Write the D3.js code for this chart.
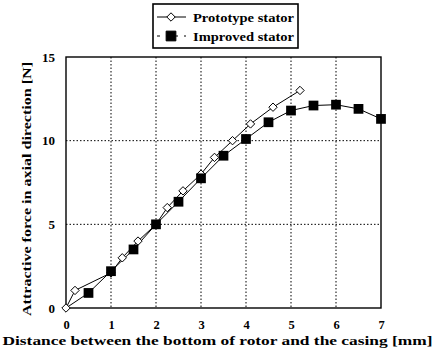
<!DOCTYPE html>
<html>
<head>
<meta charset="utf-8">
<script src="https://cdn.jsdelivr.net/npm/d3@7"></script>
<style>
  html, body { margin: 0; padding: 0; background: #fff; }
  svg { display: block; }
  text { font-family: "Liberation Serif", "Times New Roman", serif; font-weight: bold; fill: #000; }
</style>
</head>
<body>
<svg id="chart" width="438" height="358"></svg>
<script>
// Attractive force vs. rotor-to-casing distance
const prototypeX = [0, 0.2, 1.0, 1.25, 1.6, 2.0, 2.25, 2.6, 3.0, 3.3, 3.7, 4.1, 4.6, 5.2];
const prototypeY = [0, 1.05, 2.1, 3.0, 4.0, 5.0, 6.0, 7.0, 8.0, 9.0, 10.0, 11.0, 12.0, 13.0];
const improvedX = [0, 0.5, 1.0, 1.5, 2.0, 2.5, 3.0, 3.5, 4.0, 4.5, 5.0, 5.5, 6.0, 6.5, 7.0];
const improvedY = [0, 0.9, 2.2, 3.5, 5.0, 6.35, 7.75, 9.1, 10.1, 11.1, 11.8, 12.1, 12.15, 11.9, 11.3];
const xTicks = [0, 1, 2, 3, 4, 5, 6, 7];
const yTicks = [0, 5, 10, 15];
const seriesNames = ["Prototype stator", "Improved stator"];
const xTitle = "Distance between the bottom of rotor and the casing [mm]";
const yTitle = "Attractive force in axial direction [N]";

const svg = d3.select("#chart");
const plot = { left: 66, right: 381, top: 57, bottom: 308 };

const x = d3.scaleLinear().domain([0, 7]).range([plot.left, plot.right]);
const y = d3.scaleLinear().domain([0, 15]).range([plot.bottom, plot.top]);

// dotted grid
const grid = svg.append("g");
grid.selectAll("line.vx").data(xTicks.slice(1, -1)).join("line")
  .attr("x1", d => x(d)).attr("x2", d => x(d))
  .attr("y1", plot.top).attr("y2", plot.bottom)
  .attr("stroke", "#000").attr("stroke-width", 1).attr("stroke-dasharray", "1.5,2");
grid.selectAll("line.hy").data(yTicks.slice(1, -1)).join("line")
  .attr("x1", plot.left).attr("x2", plot.right)
  .attr("y1", d => y(d)).attr("y2", d => y(d))
  .attr("stroke", "#000").attr("stroke-width", 1).attr("stroke-dasharray", "1.5,2");

// axes with labels only
const xAxis = d3.axisBottom(x).tickValues(xTicks).tickFormat(d3.format("d")).tickSize(0).tickPadding(12);
svg.append("g").attr("transform", `translate(0,${plot.bottom})`).call(xAxis)
  .call(g => g.select(".domain").remove())
  .call(g => g.selectAll("text").attr("font-size", 12.5).attr("font-family", "Liberation Serif").attr("font-weight", "bold"));

const yAxis = d3.axisLeft(y).tickValues(yTicks).tickFormat(d3.format("d")).tickSize(0).tickPadding(11);
svg.append("g").attr("transform", `translate(${plot.left},0)`).call(yAxis)
  .call(g => g.select(".domain").remove())
  .call(g => g.selectAll("text").attr("font-size", 13).attr("font-family", "Liberation Serif").attr("font-weight", "bold"));

// frame
svg.append("rect")
  .attr("x", plot.left).attr("y", plot.top)
  .attr("width", plot.right - plot.left).attr("height", plot.bottom - plot.top)
  .attr("fill", "none").attr("stroke", "#000").attr("stroke-width", 1.4);

// lines
const protoData = prototypeX.map((v, i) => [v, prototypeY[i]]);
const impData = improvedX.map((v, i) => [v, improvedY[i]]);
const line = d3.line().x(d => x(d[0])).y(d => y(d[1]));

svg.append("path").datum(impData).attr("d", line)
  .attr("fill", "none").attr("stroke", "#000").attr("stroke-width", 1);
svg.append("path").datum(protoData).attr("d", line)
  .attr("fill", "none").attr("stroke", "#000").attr("stroke-width", 1);

const diamond = d3.symbol().type(d3.symbolDiamond2).size(45);
const square = d3.symbol().type(d3.symbolSquare).size(95);

// open diamonds first, filled squares drawn over them
svg.append("g").selectAll("path").data(protoData).join("path")
  .attr("d", diamond)
  .attr("transform", d => `translate(${x(d[0])},${y(d[1])})`)
  .attr("fill", "#fff").attr("stroke", "#000").attr("stroke-width", 1);

svg.append("g").selectAll("path").data(impData.slice(1)).join("path")
  .attr("d", square)
  .attr("transform", d => `translate(${x(d[0])},${y(d[1])})`)
  .attr("fill", "#000");

// axis titles
svg.append("text")
  .attr("x", (2 + 433) / 2).attr("y", 345)
  .attr("text-anchor", "middle").attr("font-size", 13)
  .attr("textLength", 430).attr("lengthAdjust", "spacingAndGlyphs")
  .text(xTitle);

svg.append("text")
  .attr("transform", `translate(31,${(62 + 316) / 2}) rotate(-90)`)
  .attr("text-anchor", "middle").attr("font-size", 13)
  .attr("textLength", 254).attr("lengthAdjust", "spacingAndGlyphs")
  .text(yTitle);

// legend
const legend = svg.append("g");
legend.append("rect")
  .attr("x", 153).attr("y", 4).attr("width", 145).attr("height", 44)
  .attr("fill", "#fff").attr("stroke", "#000").attr("stroke-width", 1.6);

const rows = [
  { name: seriesNames[0], cy: 17, sym: diamond, fill: "#fff", dash: null },
  { name: seriesNames[1], cy: 36, sym: square, fill: "#000", dash: "3,6" }
];
rows.forEach(r => {
  legend.append("line")
    .attr("x1", 157).attr("x2", 186).attr("y1", r.cy).attr("y2", r.cy)
    .attr("stroke", "#000").attr("stroke-width", 1)
    .attr("stroke-dasharray", r.dash);
  legend.append("path").attr("d", r.sym)
    .attr("transform", `translate(171,${r.cy})`)
    .attr("fill", r.fill).attr("stroke", "#000").attr("stroke-width", 1);
  legend.append("text")
    .attr("x", 193).attr("y", r.cy + 4.5)
    .attr("font-size", 12)
    .attr("textLength", 101).attr("lengthAdjust", "spacingAndGlyphs")
    .text(r.name);
});
</script>
</body>
</html>
